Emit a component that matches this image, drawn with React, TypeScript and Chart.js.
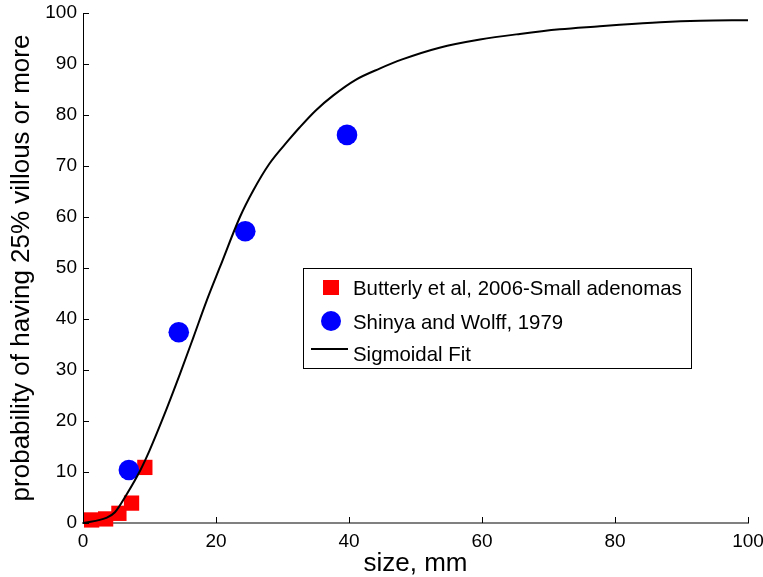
import React, { useEffect, useRef } from 'react';
import { Chart, registerables } from 'chart.js';

Chart.register(...registerables);

// Butterly et al, 2006 - Small adenomas (red squares)
const butterlyX = [1.3, 3.4, 5.4, 7.3, 9.3];
const butterlyY = [0.6, 0.8, 1.9, 3.9, 10.9];

// Shinya and Wolff, 1979 (blue circles)
const shinyaX = [6.9, 14.4, 24.4, 39.7];
const shinyaY = [10.4, 37.4, 57.2, 76.1];

// Sigmoidal fit
const fitX = [0, 3.5, 4.8, 6.6, 8.6, 10, 12, 14.6, 16.6, 18.6, 20.6, 23.6, 25.6, 28, 31, 32.6, 35, 37.6, 41, 44.6, 48, 53.6, 59.7, 65.7, 71.7, 77.7, 80.7, 86.8, 92.8, 100];
const fitY = [0, 1.0, 2.1, 5.7, 10.3, 14.2, 20.5, 29.3, 36.4, 43.6, 50.2, 60.0, 65.2, 70.4, 75.2, 77.6, 80.9, 83.8, 86.9, 89.1, 90.9, 93.2, 94.8, 95.9, 96.8, 97.4, 97.7, 98.2, 98.5, 98.6];

const xTicks = [0, 20, 40, 60, 80, 100];
const yTicks = [0, 10, 20, 30, 40, 50, 60, 70, 80, 90, 100];

const legendLabels = ['Butterly et al, 2006-Small adenomas', 'Shinya and Wolff, 1979', 'Sigmoidal Fit'];
const xTitle = 'size, mm';
const yTitle = 'probability of having 25% villous or more';

const FONT = '"Liberation Sans", Arial, Helvetica, sans-serif';

export default function App() {
  const ref = useRef<HTMLCanvasElement>(null);

  useEffect(() => {
    const canvas = ref.current;
    if (!canvas) return;

    const decor = {
      id: 'matlabDecor',
      afterDraw(chart: any) {
        const ctx = chart.ctx as CanvasRenderingContext2D;
        const { left, top, bottom } = chart.chartArea;
        const xs = chart.scales.x;
        const ys = chart.scales.y;
        ctx.save();
        // inward tick marks
        ctx.strokeStyle = '#000';
        ctx.lineWidth = 1;
        ctx.beginPath();
        for (const v of xTicks) {
          const p = Math.round(xs.getPixelForValue(v)) + 0.5;
          ctx.moveTo(p, bottom);
          ctx.lineTo(p, bottom - 6);
        }
        for (const v of yTicks) {
          const p = Math.round(ys.getPixelForValue(v)) + 0.5;
          ctx.moveTo(left, p);
          ctx.lineTo(left + 6, p);
        }
        ctx.stroke();

        // legend box
        const bx = left + 220;
        const by = top + 255;
        const bw = 388;
        const bh = 100;
        ctx.fillStyle = '#fff';
        ctx.fillRect(bx, by, bw, bh);
        ctx.strokeStyle = '#000';
        ctx.lineWidth = 1;
        ctx.strokeRect(Math.round(bx) + 0.5, Math.round(by) + 0.5, bw, bh);

        // markers
        ctx.fillStyle = '#ff0000';
        ctx.fillRect(bx + 20, by + 12, 16, 15);
        ctx.fillStyle = '#0000ff';
        ctx.beginPath();
        ctx.arc(bx + 28, by + 53, 10, 0, Math.PI * 2);
        ctx.fill();
        ctx.strokeStyle = '#000';
        ctx.lineWidth = 2;
        ctx.beginPath();
        ctx.moveTo(bx + 8, by + 81);
        ctx.lineTo(bx + 45, by + 81);
        ctx.stroke();

        ctx.fillStyle = '#000';
        ctx.font = `20.4px ${FONT}`;
        ctx.textAlign = 'left';
        ctx.textBaseline = 'alphabetic';
        ctx.fillText(legendLabels[0], bx + 50, by + 27);
        ctx.fillText(legendLabels[1], bx + 50, by + 60.5);
        ctx.fillText(legendLabels[2], bx + 50, by + 93);
        ctx.restore();
      },
    };

    const chart = new Chart(canvas, {
      type: 'scatter',
      data: {
        datasets: [
          {
            label: legendLabels[2],
            data: fitX.map((x, i) => ({ x, y: fitY[i] })),
            showLine: true,
            borderColor: '#000',
            borderWidth: 2,
            pointRadius: 0,
            cubicInterpolationMode: 'monotone',
            order: 0,
          } as any,
          {
            label: legendLabels[1],
            data: shinyaX.map((x, i) => ({ x, y: shinyaY[i] })),
            pointStyle: 'circle',
            pointRadius: 10.3,
            pointBorderWidth: 0,
            backgroundColor: '#0000ff',
            borderColor: '#0000ff',
            clip: false,
            order: 1,
          } as any,
          {
            label: legendLabels[0],
            data: butterlyX.map((x, i) => ({ x, y: butterlyY[i] })),
            pointStyle: 'rect',
            pointRadius: 10.8,
            pointBorderWidth: 0,
            backgroundColor: '#ff0000',
            borderColor: '#ff0000',
            clip: false,
            order: 2,
          } as any,
        ],
      },
      options: {
        animation: false,
        responsive: false,
        events: [],
        layout: { padding: { top: 13, right: 15, left: 0, bottom: 0 } },
        plugins: {
          legend: { display: false },
          tooltip: { enabled: false },
        },
        scales: {
          x: {
            type: 'linear',
            position: 'bottom',
            min: 0,
            max: 100,
            ticks: {
              stepSize: 20,
              color: '#000',
              font: { family: FONT, size: 19 },
              padding: 7,
              maxRotation: 0,
              autoSkip: false,
            },
            grid: { display: false, drawTicks: false },
            border: { display: true, color: '#808080', width: 2 },
            title: {
              display: true,
              text: xTitle,
              color: '#000',
              font: { family: FONT, size: 26 },
              padding: { top: 0, bottom: -2 },
            },
            afterFit: (s: any) => {
              s.height = 54;
              s.paddingLeft = 0;
              s.paddingRight = 0;
            },
          },
          y: {
            type: 'linear',
            position: 'left',
            min: 0,
            max: 100,
            ticks: {
              stepSize: 10,
              color: '#000',
              font: { family: FONT, size: 19 },
              padding: 6,
              autoSkip: false,
            },
            grid: { display: false, drawTicks: false },
            border: { display: true, color: '#000', width: 1 },
            title: {
              display: true,
              text: yTitle,
              color: '#000',
              font: { family: FONT, size: 26 },
              padding: { top: 6, bottom: 0 },
            },
            afterFit: (s: any) => {
              s.width = 83;
              s.paddingTop = 0;
              s.paddingBottom = 0;
            },
          },
        },
      } as any,
      plugins: [decor],
    });

    return () => chart.destroy();
  }, []);

  return (
    <div style={{ position: 'fixed', left: 0, top: 0, width: 763, height: 577, background: '#fff' }}>
      <canvas ref={ref} width={763} height={577} style={{ display: 'block', width: 763, height: 577 }} />
    </div>
  );
}
